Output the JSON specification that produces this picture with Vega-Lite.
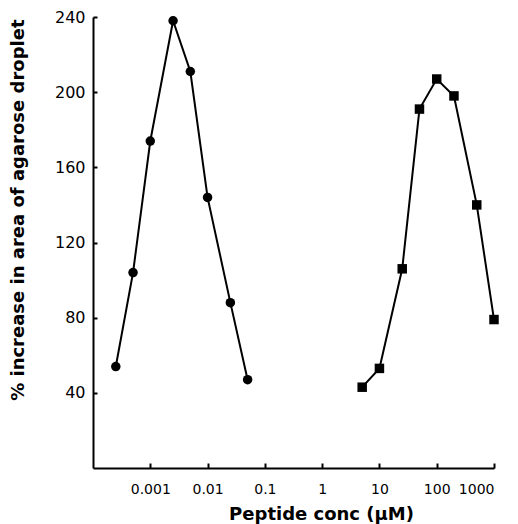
{
  "$schema": "https://vega.github.io/schema/vega-lite/v6.json",
  "width": 401,
  "height": 451,
  "autosize": {"type": "none"},
  "padding": {"left": 93, "top": 17, "right": 24, "bottom": 56},
  "background": "white",
  "config": {
    "view": {"stroke": null},
    "font": "DejaVu Sans",
    "axis": {
      "grid": false,
      "domainColor": "black",
      "domainWidth": 2,
      "tickColor": "black",
      "tickWidth": 2,
      "labelColor": "black",
      "titleColor": "black",
      "labelFont": "DejaVu Sans",
      "titleFont": "DejaVu Sans",
      "titleFontSize": 18,
      "titleFontWeight": "bold"
    }
  },
  "data": {
    "values": [
      {"series": "A", "conc": 0.00025, "pct": 54},
      {"series": "A", "conc": 0.0005, "pct": 104},
      {"series": "A", "conc": 0.001, "pct": 174},
      {"series": "A", "conc": 0.0025, "pct": 238},
      {"series": "A", "conc": 0.005, "pct": 211},
      {"series": "A", "conc": 0.01, "pct": 144},
      {"series": "A", "conc": 0.025, "pct": 88},
      {"series": "A", "conc": 0.05, "pct": 47},
      {"series": "B", "conc": 5, "pct": 43},
      {"series": "B", "conc": 10, "pct": 53},
      {"series": "B", "conc": 25, "pct": 106},
      {"series": "B", "conc": 50, "pct": 191},
      {"series": "B", "conc": 100, "pct": 207},
      {"series": "B", "conc": 200, "pct": 198},
      {"series": "B", "conc": 500, "pct": 140},
      {"series": "B", "conc": 1000, "pct": 79}
    ]
  },
  "encoding": {
    "x": {
      "field": "conc",
      "type": "quantitative",
      "scale": {"type": "log", "domain": [0.0001, 1000], "nice": false},
      "axis": {
        "title": "Peptide conc (μM)",
        "values": [0.001, 0.01, 0.1, 1, 10, 100, 1000],
        "format": ".3~f",
        "tickSize": -5,
        "labelPadding": 19,
        "labelFontSize": 14,
        "titleX": 228,
        "titleY": 37
      }
    },
    "y": {
      "field": "pct",
      "type": "quantitative",
      "scale": {"domain": [0, 240], "nice": false},
      "axis": {
        "title": "% increase in area of agarose droplet",
        "values": [40, 80, 120, 160, 200, 240],
        "tickSize": -4,
        "labelPadding": 12,
        "labelFontSize": 16,
        "titleAnchor": "end",
        "titleX": -66,
        "titleY": 2
      }
    },
    "detail": {"field": "series"}
  },
  "layer": [
    {"mark": {"type": "line", "color": "black", "strokeWidth": 2}},
    {
      "mark": {"type": "point", "filled": true, "color": "black", "opacity": 1},
      "encoding": {
        "shape": {
          "field": "series",
          "type": "nominal",
          "scale": {"domain": ["A", "B"], "range": ["circle", "square"]},
          "legend": null
        },
        "size": {"value": 90}
      }
    }
  ]
}
